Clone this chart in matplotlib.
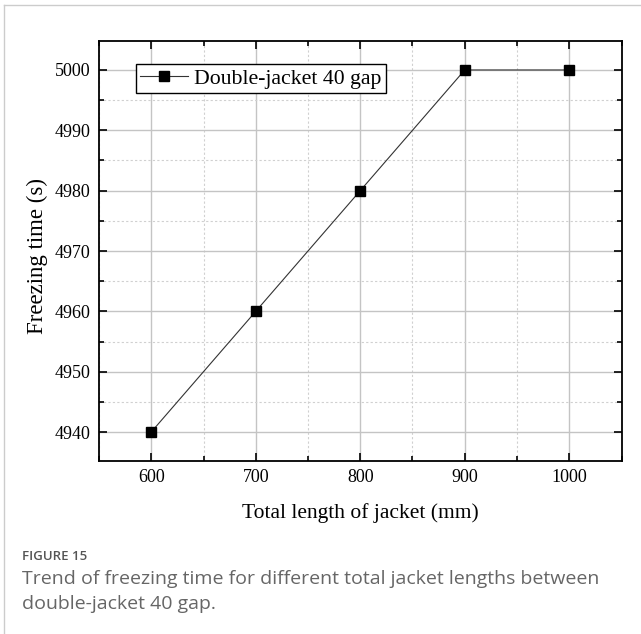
import matplotlib.pyplot as plt
from matplotlib.lines import Line2D
from matplotlib.ticker import MultipleLocator

# data
lengths = [600, 700, 800, 900, 1000]
freeze_time = [4940, 4960, 4980, 5000, 5000]
series_name = 'Double-jacket 40 gap'

serif = ['Liberation Serif', 'DejaVu Serif']
plt.rcParams['font.family'] = serif

fig = plt.figure(figsize=(6.41, 6.34), dpi=100)
ax = fig.add_axes([99 / 641, 1 - 461 / 634, 522.5 / 641, 420 / 634])

ax.plot(lengths, freeze_time, color='#333333', lw=0.8, marker='s',
        markersize=7.5, markerfacecolor='black', markeredgecolor='black',
        label=series_name, zorder=3)

ax.set_xlim(550, 1050)
ax.set_ylim(4935.2, 5004.8)
ax.xaxis.set_major_locator(MultipleLocator(100))
ax.xaxis.set_minor_locator(MultipleLocator(50))
ax.yaxis.set_major_locator(MultipleLocator(10))
ax.yaxis.set_minor_locator(MultipleLocator(5))

ax.grid(which='major', color='#c4c4c4', lw=1.0, ls='-')
ax.grid(which='minor', color='#d0d0d0', lw=0.8, ls=(0, (2, 2)))
ax.set_axisbelow(True)

ax.tick_params(which='both', direction='in', top=True, right=True,
               labelsize=13, width=1.2, pad=6)
ax.tick_params(which='major', length=6)
ax.tick_params(which='minor', length=3.5)
for lab in ax.get_xticklabels() + ax.get_yticklabels():
    lab.set_fontfamily(serif)
for s in ax.spines.values():
    s.set_linewidth(1.3)

ax.set_xlabel('Total length of jacket (mm)', fontsize=15.5, labelpad=12)
ax.set_ylabel('Freezing time (s)', fontsize=16.5, labelpad=10)
ax.yaxis.set_label_coords(-0.098, 0.488)

leg = ax.legend(loc='upper left', bbox_to_anchor=(37 / 522.5, 1 - 23 / 420),
                fontsize=15.7, fancybox=False, edgecolor='black', framealpha=1,
                handlelength=2.2, borderpad=0.2, handletextpad=0.25,
                borderaxespad=0)
leg.get_frame().set_linewidth(1.0)

# page border lines and caption
fig.add_artist(Line2D([4 / 641, 1], [1 - 5 / 634, 1 - 5 / 634], color='#cccccc', lw=1))
fig.add_artist(Line2D([4 / 641, 4 / 641], [0, 1 - 5 / 634], color='#cccccc', lw=1))
fig.text(22 / 641, 1 - 557 / 634, 'FIGURE 15', fontsize=9.5, color='#555555',
         family='Open Sans', weight='semibold', va='center')
fig.text(22 / 641, 1 - 579 / 634,
         'Trend of freezing time for different total jacket lengths between',
         fontsize=14, color='#666666', family='Open Sans', va='center')
fig.text(22 / 641, 1 - 604 / 634, 'double-jacket 40 gap.',
         fontsize=14, color='#666666', family='Open Sans', va='center')

fig.savefig('out.png', dpi=100)
